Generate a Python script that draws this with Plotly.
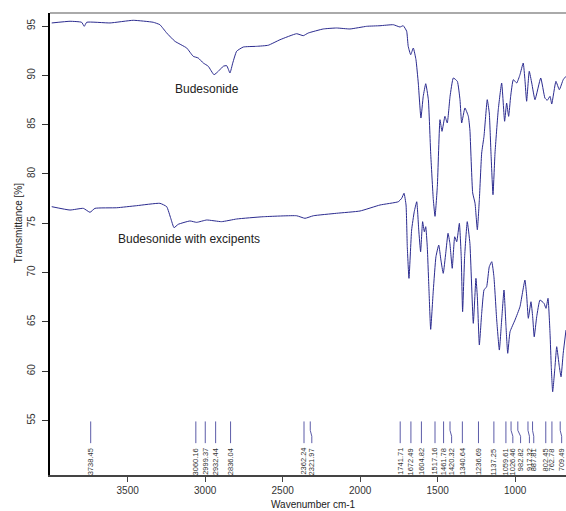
import plotly.graph_objects as go

# ---- data ----
bud_wn = [3990, 3872, 3797, 3780, 3764, 3614, 3464, 3335, 3292, 3248, 3195, 3119, 3077, 3045,
          3012, 2980, 2943, 2915, 2883, 2861, 2840, 2822, 2797, 2754, 2668, 2593, 2517, 2410,
          2367, 2335, 2238, 2152, 2066, 1958, 1872, 1786, 1743, 1722, 1700, 1690, 1674, 1657,
          1640, 1625, 1608, 1593, 1577, 1560, 1545, 1528, 1517, 1502, 1485, 1472, 1453, 1438,
          1420, 1399, 1373, 1356, 1345, 1324, 1302, 1292, 1274, 1259, 1244, 1231, 1216, 1201,
          1180, 1167, 1156, 1143, 1130, 1109, 1087, 1068, 1055, 1042, 1029, 1012, 990, 969,
          948, 937, 926, 909, 893, 872, 835, 808, 793, 775, 764, 737, 715, 690, 672]
bud_t = [95.31, 95.48, 95.38, 94.97, 95.38, 95.31, 95.58, 95.38, 95.13, 94.29, 93.45, 92.77,
         91.93, 91.76, 91.25, 90.92, 90.06, 90.41, 90.92, 90.98, 90.24, 91.25, 92.44, 92.87,
         92.94, 93.05, 93.61, 94.22, 94.02, 94.29, 94.70, 94.80, 94.70, 94.97, 95.03, 95.13,
         94.90, 95.03, 94.47, 92.94, 92.09, 92.77, 91.59, 89.22, 85.67, 87.87, 89.15, 87.53,
         82.12, 77.39, 75.70, 78.75, 85.50, 84.32, 85.84, 85.17, 87.87, 89.73, 89.39, 87.53,
         85.17, 86.69, 85.84, 84.46, 78.07, 77.05, 74.34, 77.39, 82.12, 83.82, 87.53, 86.18,
         82.12, 77.89, 82.12, 86.51, 89.22, 85.34, 87.19, 85.84, 87.87, 89.56, 89.22, 90.06,
         91.25, 89.56, 87.37, 90.41, 89.22, 87.53, 89.73, 87.70, 87.47, 87.87, 87.09, 89.39,
         88.54, 89.56, 89.90]

exc_wn = [3990, 3872, 3786, 3743, 3711, 3571, 3442, 3292, 3248, 3222, 3201, 3174, 3098, 3055,
          2990, 2894, 2797, 2625, 2410, 2356, 2302, 2152, 2001, 1872, 1754, 1732, 1717, 1704,
          1696, 1685, 1668, 1651, 1635, 1622, 1610, 1597, 1586, 1577, 1567, 1556, 1545, 1528,
          1511, 1493, 1479, 1464, 1448, 1433, 1421, 1406, 1390, 1377, 1360, 1348, 1339, 1326,
          1309, 1292, 1270, 1253, 1244, 1231, 1216, 1201, 1184, 1167, 1151, 1137, 1119, 1102,
          1087, 1072, 1059, 1048, 1033, 1001, 969, 937, 926, 915, 898, 887, 877, 861, 840, 814,
          801, 788, 775, 767, 758, 743, 732, 715, 704, 690, 672]
exc_t = [76.68, 76.34, 76.51, 76.11, 76.51, 76.57, 76.78, 77.02, 76.68, 75.50, 74.55, 74.89,
         75.23, 75.09, 75.33, 75.16, 75.43, 75.66, 75.76, 75.50, 75.76, 76.01, 76.24, 76.85,
         77.18, 77.53, 78.04, 76.85, 72.62, 69.41, 74.31, 76.17, 77.18, 74.31, 72.11, 75.16,
         74.14, 74.65, 72.62, 68.23, 64.24, 68.23, 71.61, 72.79, 71.27, 69.92, 71.95, 73.98,
         72.96, 70.43, 73.63, 73.13, 74.99, 71.61, 66.03, 71.61, 75.16, 72.96, 64.85, 69.41,
         67.55, 62.65, 65.86, 68.23, 68.56, 70.59, 71.10, 69.58, 65.19, 62.14, 65.19, 68.23,
         64.51, 61.81, 64.00, 65.19, 66.53, 69.24, 67.72, 65.36, 67.04, 65.52, 63.49, 65.52,
         67.21, 66.88, 66.37, 67.39, 63.84, 60.45, 57.91, 60.45, 62.48, 60.45, 59.43, 61.81,
         64.17]

peaks = [3738.45, 3060.16, 2999.37, 2932.44, 2836.04, 2362.24, 2321.97, 1741.71, 1672.49,
         1604.82, 1517.16, 1461.78, 1420.32, 1340.64, 1236.69, 1137.25, 1059.61, 1026.46,
         982.82, 917.32, 887.81, 802.45, 762.78, 709.49]
# where each peak's label sits (crowded labels are nudged)
label_at = [3738.45, 3060.16, 2999.37, 2932.44, 2836.04, 2362.24, 2312, 1741.71, 1672.49,
            1604.82, 1517.16, 1461.78, 1410, 1340.64, 1236.69, 1137.25, 1059.61, 1015,
            965, 908, 880, 802.45, 762.78, 700]

x_ticks = [3500, 3000, 2500, 2000, 1500, 1000]
y_ticks = [55, 60, 65, 70, 75, 80, 85, 90, 95]

FONT = "Liberation Sans, Arial, sans-serif"
CURVE = "#2b2b8f"

fig = go.Figure()
fig.add_trace(go.Scatter(x=bud_wn, y=bud_t, mode="lines",
                         line=dict(color=CURVE, width=1, shape="spline", smoothing=0.4),
                         hoverinfo="skip", showlegend=False))
fig.add_trace(go.Scatter(x=exc_wn, y=exc_t, mode="lines",
                         line=dict(color=CURVE, width=1, shape="spline", smoothing=0.4),
                         hoverinfo="skip", showlegend=False))

# peak marker lines
lx, ly = [], []
for p, l in zip(peaks, label_at):
    lx += [p, p, l, l, None]
    ly += [54.9, 54.0, 53.4, 52.7, None]
fig.add_trace(go.Scatter(x=lx, y=ly, mode="lines",
                         line=dict(color="#5c5ca8", width=1),
                         hoverinfo="skip", showlegend=False))

annotations = []
for p, l in zip(peaks, label_at):
    annotations.append(dict(x=l, y=52.4, xref="x", yref="y", text=f"{p:.2f}",
                            showarrow=False, textangle=-90, xanchor="center",
                            yanchor="top", font=dict(family=FONT, size=7.5, color="#333")))

annotations.append(dict(x=2990, y=88.6, text="Budesonide", showarrow=False,
                        font=dict(family=FONT, size=12, color="#222")))
annotations.append(dict(x=3104, y=73.45, text="Budesonide with excipents", showarrow=False,
                        font=dict(family=FONT, size=12, color="#222")))
annotations.append(dict(xref="paper", yref="paper", x=0, y=0.545, xshift=-32,
                        text="Transmittance [%]", textangle=-90, showarrow=False,
                        xanchor="center", yanchor="middle",
                        font=dict(family=FONT, size=10, color="#222")))
annotations.append(dict(xref="paper", yref="paper", x=0.51, y=0, yshift=-29,
                        text="Wavenumber cm-1", showarrow=False,
                        xanchor="center", yanchor="middle",
                        font=dict(family=FONT, size=10, color="#222")))

fig.update_layout(
    width=566, height=511,
    margin=dict(l=50, r=0, t=13, b=36),
    paper_bgcolor="white", plot_bgcolor="white",
    annotations=annotations,
    shapes=[dict(type="line", xref="paper", yref="paper", x0=0, x1=1, y0=1, y1=1,
                 line=dict(color="#aaaaaa", width=2))],
    xaxis=dict(range=[4001, 672], tickvals=x_ticks, ticktext=[str(v) for v in x_ticks],
               showgrid=False, zeroline=False, showline=True, linecolor="#444",
               linewidth=1.5, ticks="outside", ticklen=5, tickcolor="#444",
               tickfont=dict(family=FONT, size=10, color="#333")),
    yaxis=dict(range=[49.47, 96.32], tickvals=y_ticks, ticktext=[str(v) for v in y_ticks],
               showgrid=False, zeroline=False, showline=True, linecolor="black",
               linewidth=2, ticks="outside", ticklen=6, tickcolor="#333",
               tickangle=-90, ticklabelstandoff=3,
               tickfont=dict(family=FONT, size=10, color="#333")),
)

fig.write_html("out.html")
